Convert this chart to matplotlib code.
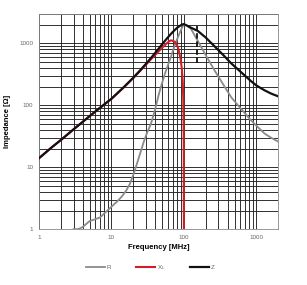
import matplotlib
matplotlib.use("Agg")
import matplotlib.pyplot as plt
from matplotlib.ticker import FixedLocator, LogLocator, FuncFormatter

# ---- data ----
freq_z = [1, 1.5, 2, 3, 4, 5, 7, 10, 15, 20, 25, 30, 35, 40, 45, 50, 55, 60, 66, 72, 80, 88, 95, 100,
          110, 125, 155, 200, 265, 350, 448, 560, 700, 850, 1000, 1300, 1600, 2000]
z_vals = [14, 21, 27.5, 41, 54, 67, 92, 128, 200, 280, 370, 470, 580, 700, 830, 970, 1110, 1250, 1420, 1580, 1780, 1930, 2030, 2060,
          1950, 1800, 1600, 1250, 900, 650, 480, 380, 300, 245, 210, 175, 155, 140]

freq_r = [3, 3.5, 4, 5, 6, 7, 8, 9, 10, 12, 14, 16, 18, 20, 22, 25, 28, 31, 35, 40, 45, 50, 55, 60, 66, 72, 80, 88, 95, 100,
          110, 125, 155, 200, 265, 350, 450, 560, 700, 850, 1000, 1300, 1600, 2000]
r_vals = [1.0, 1.0, 1.08, 1.35, 1.45, 1.55, 1.8, 2.05, 2.3, 2.8, 3.4, 4.2, 5.4, 7.5, 10.5, 17, 26, 36, 50, 85, 150, 230, 330, 440, 600, 820, 1150, 1500, 1850, 2000,
          1950, 1730, 1110, 650, 367, 217, 135, 100, 74, 57, 47, 35, 30, 26]

freq_xl = [1, 1.5, 2, 3, 4, 5, 7, 10, 15, 20, 25, 30, 35, 40, 45, 50, 55, 60, 63, 66, 70, 75, 80, 84, 90, 94, 96.5, 98, 99, 99.6, 100]
xl_vals = [14, 21, 27.5, 41, 54, 67, 92, 127, 198, 276, 362, 455, 555, 650, 750, 850, 950, 1040, 1090, 1120, 1110, 1060, 950, 820, 560, 380, 240, 130, 60, 20, 0.8]

dash_freq = 150
dash_range = [480, 1950]

x_ticks = [1, 10, 100, 1000]
y_ticks = [1, 10, 100, 1000]
x_lim = (1, 2000)
y_lim = (1, 3000)

# ---- figure ----
plt.rcParams['font.family'] = ['Liberation Sans', 'DejaVu Sans']
fig = plt.figure(figsize=(3.07, 2.85), dpi=100)
ax = fig.add_axes([0.127, 0.196, 0.779, 0.755])
ax.set_xscale('log')
ax.set_yscale('log')
ax.set_xlim(*x_lim)
ax.set_ylim(*y_lim)

ax.xaxis.set_major_locator(FixedLocator(x_ticks))
ax.yaxis.set_major_locator(FixedLocator(y_ticks))
ax.xaxis.set_minor_locator(LogLocator(base=10, subs=range(2, 10), numticks=20))
ax.yaxis.set_minor_locator(LogLocator(base=10, subs=range(2, 10), numticks=20))
fmt = FuncFormatter(lambda v, p: f"{int(round(v))}")
ax.xaxis.set_major_formatter(fmt)
ax.yaxis.set_major_formatter(fmt)
ax.xaxis.set_minor_formatter(FuncFormatter(lambda v, p: ""))
ax.yaxis.set_minor_formatter(FuncFormatter(lambda v, p: ""))

ax.grid(True, which='both', color='#222222', linewidth=0.65)
ax.set_axisbelow(True)
ax.tick_params(which='both', length=0, labelsize=4.5, labelcolor='#666666', pad=4)
for s in ax.spines.values():
    s.set_color('#888888')
    s.set_linewidth(0.6)

ax.plot(freq_r, r_vals, color='#8a8a8a', lw=1.3, label='R', zorder=3, solid_joinstyle='round')
ax.plot(freq_xl, xl_vals, color='#d01f26', lw=1.5, label='X$_\\mathregular{L}$', zorder=4, solid_joinstyle='round')
ax.plot(freq_z, z_vals, color='#111111', lw=1.6, label='Z', zorder=5, solid_joinstyle='round')
ax.plot([dash_freq, dash_freq], dash_range, color='#111111', lw=1.3,
        linestyle=(0, (3, 1.5)), zorder=5)

ax.set_xlabel('Frequency [MHz]', fontsize=5.5, fontweight='bold', labelpad=3)
ax.set_ylabel('Impedance [Ω]', fontsize=5.5, fontweight='bold', labelpad=6)

leg = fig.legend(loc='center', bbox_to_anchor=(0.49, 0.06), ncol=3, frameon=False,
                 fontsize=4.5, handlelength=3.0, columnspacing=4.0, handletextpad=0.3)
for t in leg.get_texts():
    t.set_color('#666666')

fig.savefig('out.png', dpi=100)
